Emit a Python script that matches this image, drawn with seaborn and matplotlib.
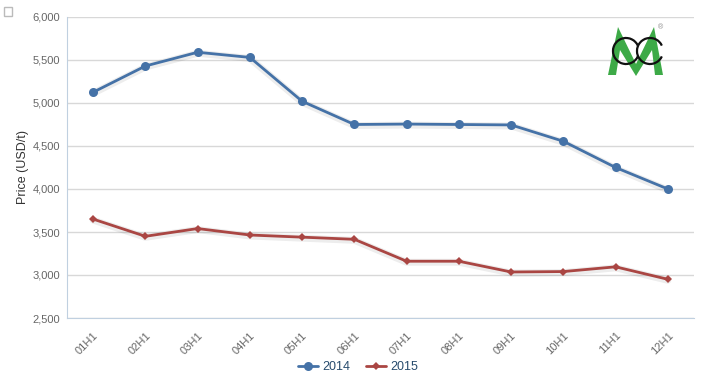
import matplotlib
matplotlib.use("Agg")
import matplotlib.pyplot as plt
from matplotlib.patches import Polygon, Arc, Rectangle
import seaborn as sns
import pandas as pd
import numpy as np

categories = ["01H1", "02H1", "03H1", "04H1", "05H1", "06H1",
              "07H1", "08H1", "09H1", "10H1", "11H1", "12H1"]
prices_2014 = [5125, 5430, 5590, 5530, 5020, 4750, 4755, 4750, 4745, 4555, 4250, 4000]
prices_2015 = [3650, 3450, 3540, 3465, 3440, 3415, 3160, 3160, 3035, 3040, 3095, 2950]
series_names = ["2014", "2015"]
yticks = [2500, 3000, 3500, 4000, 4500, 5000, 5500, 6000]

df = pd.DataFrame({
    "cat": categories * 2,
    "price": prices_2014 + prices_2015,
    "year": [series_names[0]] * 12 + [series_names[1]] * 12,
})

sns.set_style("white")
plt.rcParams["font.family"] = ["Liberation Sans", "DejaVu Sans"]

W, H = 716, 388
fig = plt.figure(figsize=(W/100, H/100), dpi=100)
ax = fig.add_axes([67/W, 1-318/H, (694-67)/W, (318-17)/H])

palette = {"2014": "#4572A7", "2015": "#AA4643"}
markers = {"2014": "o", "2015": "D"}

# soft shadow under lines
for vals in [prices_2014, prices_2015]:
    ax.plot(np.arange(12), np.array(vals) - 12, color="#000000", alpha=0.07, lw=5, zorder=1)

sns.lineplot(data=df, x="cat", y="price", hue="year", style="year",
             palette=palette, markers=markers, dashes=False, ax=ax,
             linewidth=2, markersize=6.5, markeredgewidth=0, zorder=3,
             sort=False)
for line in ax.lines:
    if line.get_marker() == "D":
        line.set_markersize(4.5)

ax.set_xlim(-0.5, 11.5)
ax.set_ylim(2500, 6000)
ax.set_yticks(yticks)
ax.set_yticklabels([f"{v:,}" for v in yticks], color="#666666", fontsize=8)
ax.yaxis.grid(True, color="#D8D8D8", lw=1)
ax.set_axisbelow(True)

ax.set_xticks(range(12))
ax.set_xticklabels(categories, rotation=45, ha="right", rotation_mode="anchor",
                   color="#666666", fontsize=8)
ax.tick_params(axis="x", length=0, pad=9)
ax.set_xticks(np.arange(-0.5, 12, 1), minor=True)
ax.tick_params(axis="x", which="minor", length=5, color="#C0D0E0", direction="in")
ax.tick_params(axis="y", length=0, pad=5)

for s in ["top", "right"]:
    ax.spines[s].set_visible(False)
ax.spines["left"].set_color("#C0D0E0")
ax.spines["bottom"].set_color("#C0D0E0")

ax.set_xlabel("")
ax.set_ylabel("Price (USD/t)", fontsize=9, color="#333333")
ax.yaxis.set_label_coords(-(67-29)/627, 0.5)

h, l = ax.get_legend_handles_labels()
ax.legend(h, l, loc="center", bbox_to_anchor=(0.5, (H-367)/H), bbox_transform=fig.transFigure,
          ncol=2, frameon=False, fontsize=9, labelcolor="#274b6d",
          handlelength=1.6, columnspacing=1.2, handletextpad=0.4)

# checkbox top-left
fig.patches.append(Rectangle((4/W, 1-16/H), 8/W, 9/H, transform=fig.transFigure,
                             fill=False, edgecolor="#BBBBBB", lw=1))

# logo drawn with shapes (pixel coords -> figure coords)
def P(x, y):
    return (x / W, 1 - y / H)

m_pts = [P(608, 75), P(618, 27), P(636, 64), P(654, 27), P(663, 75),
         P(655, 75), P(652, 50), P(636, 76), P(620, 50), P(616, 75)]
fig.patches.append(Polygon(m_pts, closed=True, transform=fig.transFigure,
                           facecolor="#3DAA47", edgecolor="none"))
for cx in (626, 650):
    fig.patches.append(Arc(P(cx, 51), 26/W, 26/H, theta1=40, theta2=320,
                           transform=fig.transFigure, color="#111111", lw=1.6))
fig.text(660/W, 1-28/H, "®", color="#888888", fontsize=5, ha="center", va="center")

fig.savefig("out.png", dpi=100)
